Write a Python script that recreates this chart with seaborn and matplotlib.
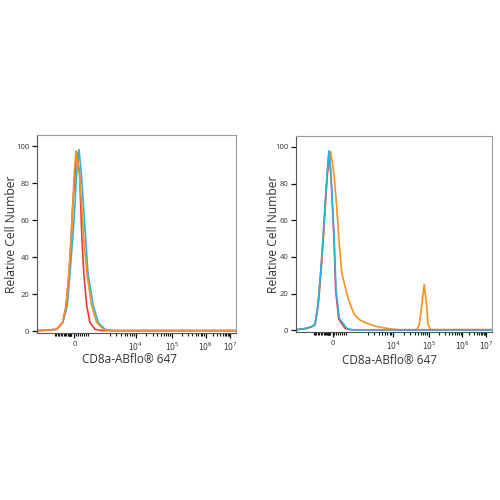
import numpy as np
import pandas as pd
import matplotlib
matplotlib.use("Agg")
import matplotlib.pyplot as plt
import seaborn as sns

# x is in display channels (0-1000 across the plot), y is relative cell number
tick_pos = [188, 495, 678, 848, 970]
tick_labels = ["0", "$10^4$", "$10^5$", "$10^6$", "$10^7$"]
y_ticks = [0, 20, 40, 60, 80, 100]

# left panel
left_orange_x = [0, 49, 99, 129, 146, 161, 171, 179, 187, 196, 213, 225, 236, 250, 275, 300, 333, 375, 1000]
left_orange_y = [0.3, 0.5, 1, 4.7, 13.6, 31.5, 49.5, 67, 85, 97.5, 85, 67, 49.5, 31.5, 13.6, 4.7, 1, 0.3, 0.3]
left_red_x = [0, 49, 99, 129, 146, 161, 171, 179, 191, 199, 214, 220, 226, 235, 250, 266, 291, 325, 1000]
left_red_y = [0.3, 0.5, 1, 4.7, 13.6, 31.5, 49.5, 67, 85, 97, 85, 67, 49.5, 31.5, 13.6, 4.7, 1, 0.3, 0.3]
left_cyan_x = [0, 49, 99, 130, 152, 166, 179, 190, 199, 211, 223, 234, 245, 256, 283, 308, 342, 375, 1000]
left_cyan_y = [0.3, 0.5, 1, 4.7, 13.6, 31.5, 49.5, 67, 85, 98.2, 85, 67, 49.5, 31.5, 13.6, 4.7, 1, 0.3, 0.3]

# right panel
right_cyan_x = [0, 55, 82, 97, 112, 126, 138, 148, 159, 168, 179, 187, 195, 204, 221, 259, 291, 1000]
right_cyan_y = [0.2, 1, 2, 3, 13.6, 31.5, 49.5, 67, 85, 98, 85, 67, 49.5, 22.6, 6.5, 1, 0.2, 0.2]
right_red_x = [0, 55, 82, 97, 112, 126, 138, 148, 159, 168, 178, 186, 194, 202, 218, 250, 280, 1000]
right_red_y = [0.2, 1, 2, 3, 13.6, 31.5, 49.5, 67, 85, 97, 85, 67, 49.5, 22, 6, 1, 0.2, 0.2]
right_orange_x = [0, 55, 82, 97, 114, 128, 139, 149, 160, 177, 194, 208, 219, 233, 241, 250, 267, 284, 301, 327,
                  361, 412, 480, 531, 616, 629, 640, 654, 665, 674, 687, 1000]
right_orange_y = [0.2, 1, 2, 3, 13.6, 31.5, 49.5, 67, 85, 97.5, 85, 67, 49.5, 31.5, 28, 24, 17, 12, 8, 5.5,
                  3.8, 2, 0.7, 0.2, 0.3, 3, 12, 25, 15, 3, 0.3, 0.3]

ORANGE = "#F7931E"
RED = "#EE3A3A"
CYAN = "#27B5E6"

sns.set_style("white")
plt.rcParams["font.family"] = ["Open Sans", "DejaVu Sans"]

fig = plt.figure(figsize=(5, 5), dpi=100)
ax1 = fig.add_axes([0.074, 0.334, 0.398, 0.396])
ax2 = fig.add_axes([0.592, 0.336, 0.392, 0.392])

panels = [
    (ax1, [(left_cyan_x, left_cyan_y, CYAN), (left_red_x, left_red_y, RED), (left_orange_x, left_orange_y, ORANGE)],
     (-0.126, 0.5), (0.465, -0.136)),
    (ax2, [(right_orange_x, right_orange_y, ORANGE), (right_red_x, right_red_y, RED), (right_cyan_x, right_cyan_y, CYAN)],
     (-0.117, 0.5), (0.477, -0.143)),
]

# minor ticks for the biexponential-like axis
minor = list(np.linspace(90, 155, 10)) + list(np.linspace(160, 172, 7)) + list(np.linspace(195, 255, 7))
for a, b in zip(tick_pos[1:-1], tick_pos[2:]):
    minor += [a + (b - a) * np.log10(k) for k in range(2, 10)]
minor += [tick_pos[1] - (tick_pos[2] - tick_pos[1]) * (1 - np.log10(k)) for k in range(2, 10)]

for ax, curves, ylab_xy, xlab_xy in panels:
    for xs, ys, c in curves:
        df = pd.DataFrame({"x": xs, "y": ys})
        sns.lineplot(data=df, x="x", y="y", color=c, lw=1.2, ax=ax, sort=False)
    ax.set_xlim(0, 1000)
    ax.set_ylim(-1, 106)
    ax.set_xticks(tick_pos)
    ax.set_xticklabels(tick_labels, fontsize=5.5, color="#333333")
    ax.set_xticks(minor, minor=True)
    ax.set_yticks(y_ticks)
    ax.set_yticklabels([str(v) for v in y_ticks], fontsize=5.5, color="#333333")
    ax.tick_params(axis="both", which="both", bottom=True, left=True)
    ax.tick_params(axis="both", which="major", direction="out", length=3.5, width=0.9, color="#111111", pad=2)
    ax.tick_params(axis="x", which="minor", direction="out", length=2.5, width=0.8, color="#111111")
    ax.set_xlabel("CD8a-ABflo® 647", fontsize=8.5, color="#333333")
    ax.set_ylabel("Relative Cell Number", fontsize=8.7, color="#333333")
    ax.yaxis.set_label_coords(*ylab_xy)
    ax.xaxis.set_label_coords(*xlab_xy)
    ax.xaxis.label.set_va("center")
    ax.yaxis.label.set_va("center")
    for s in ["left", "bottom"]:
        ax.spines[s].set_color("#555555")
        ax.spines[s].set_linewidth(0.8)
    for s in ["top", "right"]:
        ax.spines[s].set_color("#999999")
        ax.spines[s].set_linewidth(0.8)

fig.savefig("out.png", dpi=100, facecolor="white")
